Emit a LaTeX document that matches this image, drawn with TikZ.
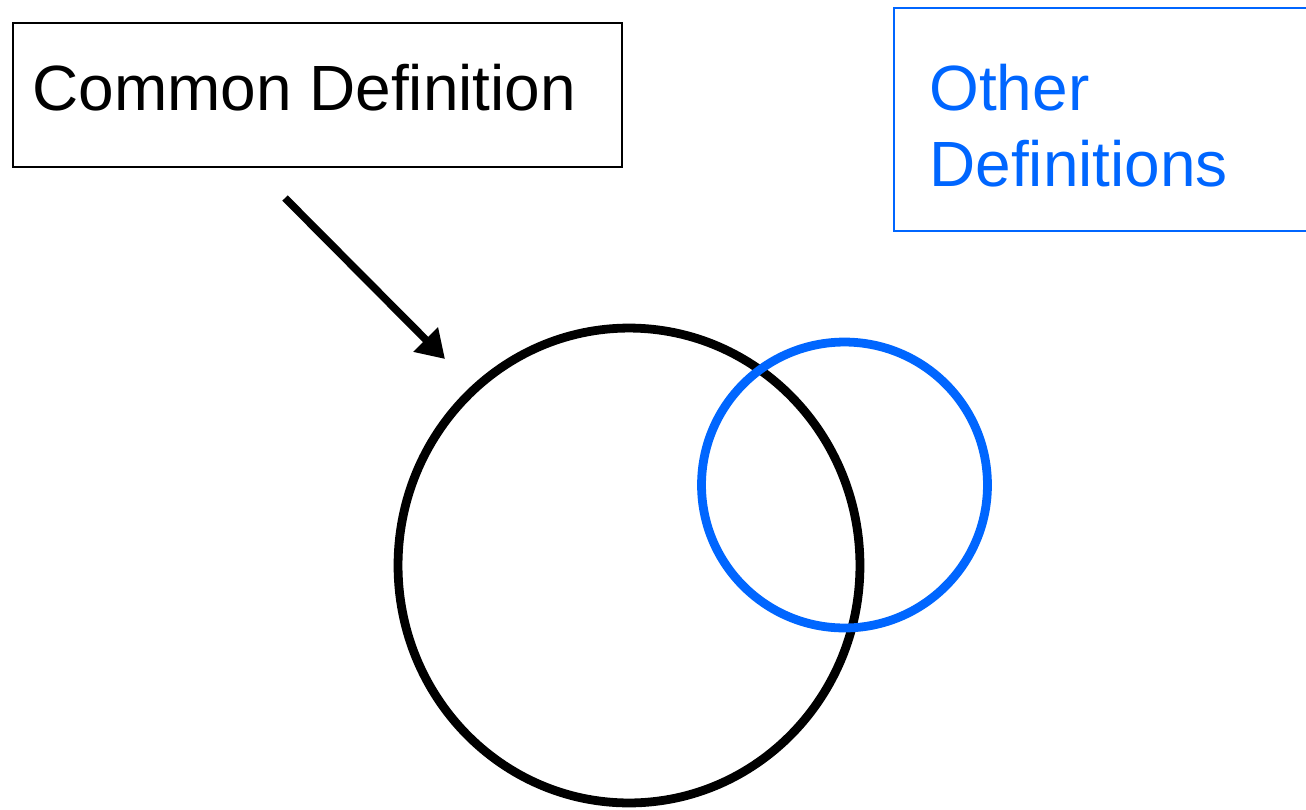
\documentclass[tikz,border=0pt]{standalone}
\usepackage{fontspec}
\setmainfont{Liberation Sans}
\usetikzlibrary{arrows.meta}
\definecolor{defblue}{HTML}{0066FF}
\tikzset{
  boxframe/.style={draw, line width=1.1pt, inner sep=0pt},
  bigtext/.style={inner sep=0pt, font=\fontsize{36.4}{42.7}\selectfont, align=left},
  ring/.style={line width=5pt},
  pointer/.style={line width=4.3pt, -{Triangle[length=0.55cm, width=0.66cm]}}
}
\begin{document}
\begin{tikzpicture}[x=0.02cm, y=-0.02cm]
\useasboundingbox (0,0) rectangle (1306,809);
\clip (0,0) rectangle (1306,809);
% Common definition box
\node[boxframe, minimum width=12.18cm, minimum height=2.88cm, anchor=north west] (commonbox) at (12,22) {};
\node[bigtext, anchor=base west] (commontext) at (32,110) {Common Definition};
% Other definitions box
\node[boxframe, draw=defblue, line width=0.9pt, minimum width=8.5cm, minimum height=4.46cm, anchor=north west] (otherbox) at (893,7) {};
\node[bigtext, text=defblue, anchor=base west] (othertext) at (929,186) {Other\\Definitions};
% Arrow
\coordinate (arrowstart) at (285,198);
\coordinate (arrowend) at (445,359);
\draw[pointer] (arrowstart) -- (arrowend);
% Circles
\draw[ring] (629,565.5) ellipse [x radius=4.62cm, y radius=4.75cm];
\draw[ring, draw=defblue] (844.5,485) circle [radius=2.86cm];
\end{tikzpicture}
\end{document}
